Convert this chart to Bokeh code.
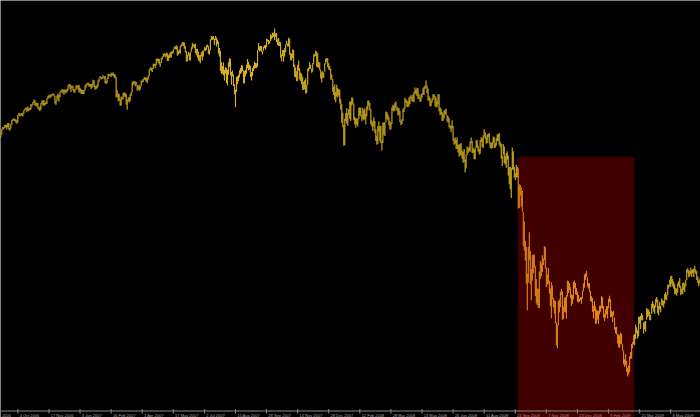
from bokeh.plotting import figure
from bokeh.models import Range1d, BoxAnnotation, ColumnDataSource, Span
from bokeh.embed import file_html
from bokeh.resources import INLINE
from bokeh.core.properties import value

# Daily index levels, one bar per trading day (Sep 2006 - Jun 2009)
high = [
    # 2006
    1302,1314,1319,1318,1324,1325,1324,1329,1329,1316,1327,1337,1340,1341,1340,
    1338,1336,1350,1356,1353,1354,1355,1356,1363,1366,1370,1369,1372,1367,1369,1378,1378,1384,1390,1389,1381,1382,
    1381,1369,1372,1381,1388,1388,1389,1381,1385,1394,1400,1403,1401,1404,1404,1407,1405,1400,1387,1401,1406,
    1402,1411,1415,1416,1418,1414,1417,1415,1418,1427,1431,1431,1426,1428,1425,1418,1417,1427,1428,1427,
    # 2007
    1429,1421,1418,1415,1415,1416,1427,1431,1433,1435,1432,1431,1431,1431,1442,1441,1427,1426,1429,1441,
    1446,1452,1449,1450,1454,1451,1452,1439,1446,1458,1457,1456,1460,1460,1461,1457,1456,1450,1415,
    1407,1404,1391,1398,1396,1408,1409,1408,1405,1390,1395,1397,1404,1411,1437,1437,1439,1437,1437,1429,1426,1429,
    1425,1440,1440,1444,1449,1448,1448,1448,1453,1469,1474,1474,1472,1484,1484,1484,1496,1498,1497,1496,
    1487,1499,1503,1510,1511,1509,1513,1512,1506,1510,1514,1515,1517,1522,1529,1529,1532,1529,1517,1521,1531,1535,
    1540,1540,1539,1530,1517,1507,1515,1511,1515,1527,1538,1535,1535,1537,1523,1523,1515,1506,1507,1514,1517,
    1519,1527,1526,1532,1534,1531,1521,1548,1556,1555,1556,1549,1556,1553,1547,1541,1525,1518,1488,1478,1488,
    1468,1475,1473,1468,1488,1498,1497,1462,1466,1456,1430,1416,1450,1451,1455,1467,1473,1480,1479,1466,1465,1468,1481,
    1496,1489,1481,1478,1462,1473,1479,1489,1486,1485,1519,1538,1529,1530,1530,1518,1529,1532,1533,
    1549,1548,1546,1544,1561,1558,1565,1565,1576,1563,1564,1548,1551,1541,1540,1508,1520,1520,1524,1535,1544,1537,1552,
    1549,1512,1510,1521,1520,1482,1474,1464,1481,1492,1472,1461,1458,1450,1436,1441,1446,1429,1471,1474,1488,
    1481,1471,1486,1508,1510,1518,1516,1511,1489,1487,1468,1461,1464,1461,1485,1497,1499,1498,1485,1478,
    # 2008
    1471,1456,1444,1424,1430,1410,1429,1420,1418,1416,1391,1378,1356,1323,1340,1355,1368,1354,1365,1385,1386,
    1396,1395,1380,1345,1341,1341,1341,1368,1370,1369,1350,1368,1363,1367,1354,1372,1387,1388,1381,1365,
    1336,1331,1344,1334,1313,1296,1321,1333,1321,1321,1283,1330,1331,1331,1359,1358,1352,1345,1334,1329,
    1370,1377,1375,1381,1386,1372,1369,1368,1361,1335,1339,1366,1369,1395,1391,1388,1385,1396,1398,1402,1397,1404,
    1410,1422,1415,1421,1420,1404,1395,1404,1407,1420,1424,1427,1440,1427,1419,1399,1395,1387,1393,1405,1404,
    1400,1396,1386,1405,1404,1370,1366,1358,1353,1361,1364,1366,1350,1347,1342,1323,1322,1336,1321,1289,1291,
    1285,1292,1272,1273,1275,1277,1257,1254,1261,1234,1246,1268,1263,1267,1280,1291,1283,1263,1260,1265,1284,1284,
    1270,1262,1285,1292,1290,1297,1313,1305,1294,1300,1301,1303,1279,1277,1280,1294,1292,1276,1289,1300,1300,
    1303,1280,1275,1244,1274,1268,1243,1250,1255,1244,1214,1214,1211,1265,1255,1214,1198,1220,1215,1210,1169,
    1167,1161,1153,1097,1072,1021,1006,936,1006,1044,995,948,984,986,985,955,922,897,896,941,969,963,984,
    975,1007,1005,952,933,951,917,897,913,905,873,866,864,808,802,865,868,888,896,
    889,850,873,875,879,918,916,911,900,882,880,914,918,911,898,889,880,870,874,874,891,910,
    # 2009
    934,936,943,927,911,911,890,877,872,852,864,850,841,839,839,852,852,877,874,851,
    830,842,851,851,870,878,869,839,836,839,822,796,797,778,777,775,781,779,751,
    735,712,725,708,690,696,720,731,752,758,775,778,803,796,788,823,823,826,833,828,809,810,
    812,846,843,842,836,828,857,864,857,853,870,875,868,851,862,851,871,867,864,883,888,
    881,907,907,920,929,930,922,915,908,898,896,910,916,924,903,896,911,913,909,920,
    947,950,945,942,951,946,947,949,956,946,942,928,918,923,927,922,
]
low = [
    # 2006
    1290,1299,1312,1313,1316,1318,1312,1318,1312,1309,1314,1325,1334,1336,1334,
    1330,1327,1331,1349,1346,1348,1349,1346,1353,1361,1365,1357,1361,1360,1363,1364,1372,1376,1382,1375,1374,1372,
    1366,1364,1360,1364,1379,1375,1374,1375,1378,1379,1392,1396,1394,1397,1399,1402,1399,1380,1377,1386,1393,
    1385,1397,1408,1411,1406,1403,1409,1406,1410,1414,1425,1418,1410,1421,1414,1408,1409,1416,1422,1416,
    # 2007
    1408,1411,1405,1405,1405,1404,1414,1422,1428,1428,1424,1424,1418,1421,1428,1423,1416,1417,1420,1424,
    1437,1446,1443,1444,1448,1444,1433,1431,1433,1444,1452,1451,1449,1454,1452,1448,1445,1396,1397,
    1386,1388,1374,1375,1390,1392,1398,1397,1377,1364,1385,1383,1386,1400,1409,1429,1432,1425,1428,1413,1417,1413,
    1416,1425,1435,1436,1442,1441,1436,1433,1443,1452,1467,1465,1462,1470,1478,1473,1480,1491,1486,1482,
    1476,1486,1495,1501,1505,1500,1503,1491,1491,1498,1500,1500,1510,1512,1522,1522,1521,1505,1507,1512,1510,1529,
    1531,1530,1523,1513,1490,1490,1505,1492,1492,1515,1523,1529,1525,1512,1506,1500,1492,1490,1485,1503,1492,
    1503,1518,1517,1520,1527,1510,1507,1519,1545,1546,1547,1533,1546,1529,1535,1510,1503,1465,1458,1458,1454,
    1440,1458,1433,1427,1455,1476,1453,1429,1451,1426,1404,1370,1411,1430,1439,1448,1457,1460,1465,1432,1433,1451,1458,
    1472,1466,1469,1449,1440,1452,1465,1471,1473,1473,1476,1519,1516,1518,1515,1508,1518,1525,1521,
    1527,1542,1535,1537,1543,1548,1552,1555,1546,1554,1540,1533,1530,1530,1500,1490,1504,1489,1503,1514,1534,1529,1529,
    1507,1493,1492,1499,1475,1450,1448,1438,1439,1466,1443,1439,1430,1416,1415,1417,1406,1407,1429,1464,1470,
    1470,1460,1463,1484,1502,1504,1476,1475,1473,1467,1445,1435,1446,1447,1463,1484,1489,1475,1469,1467,
    # 2008
    1442,1443,1411,1402,1390,1383,1398,1396,1401,1380,1364,1330,1318,1270,1271,1334,1327,1322,1350,1340,1335,
    1375,1379,1336,1325,1317,1325,1320,1339,1349,1347,1334,1339,1336,1339,1326,1347,1363,1374,1362,1325,
    1320,1308,1320,1303,1282,1272,1275,1306,1282,1277,1257,1277,1298,1295,1331,1341,1336,1323,1312,1312,
    1326,1361,1359,1362,1369,1361,1349,1350,1331,1324,1326,1334,1358,1367,1382,1371,1370,1373,1379,1394,1386,1384,
    1383,1406,1404,1399,1392,1392,1384,1386,1396,1403,1402,1418,1421,1407,1388,1387,1373,1373,1382,1389,1395,
    1373,1370,1370,1378,1360,1350,1351,1334,1335,1341,1352,1350,1333,1330,1318,1314,1305,1315,1283,1272,1275,
    1262,1261,1252,1241,1245,1244,1236,1225,1228,1200,1211,1245,1251,1255,1254,1276,1251,1251,1234,1235,1265,1264,
    1254,1247,1249,1280,1266,1264,1294,1288,1275,1277,1292,1276,1264,1262,1264,1278,1264,1265,1270,1282,1282,
    1272,1266,1236,1217,1247,1224,1221,1212,1233,1192,1169,1156,1133,1207,1207,1187,1180,1187,1187,1106,1107,
    1140,1111,1098,1008,996,970,909,840,912,972,908,866,918,937,952,877,858,853,846,846,922,928,940,
    958,971,949,900,907,910,884,852,819,869,848,831,806,748,741,801,834,848,880,
    815,817,836,834,818,876,885,892,872,851,857,868,897,882,880,862,860,862,866,857,870,889,
    # 2009
    899,919,927,902,897,888,864,862,836,818,838,804,806,816,804,829,836,845,844,821,
    812,821,829,819,845,861,822,823,809,826,789,780,777,754,743,742,751,751,734,
    699,692,697,679,667,672,679,713,714,741,751,749,765,780,766,772,805,791,814,814,779,790,
    784,815,822,826,814,814,830,845,836,831,848,860,832,827,842,835,853,852,847,858,869,
    866,879,897,903,901,909,902,896,882,882,878,886,903,899,879,883,882,893,888,903,
    919,938,926,929,934,927,937,927,939,935,919,911,903,910,914,891,
]

tick_labels = [
    "21 Aug 2006", "4 Oct 2006", "17 Nov 2006", "3 Jan 2007", "16 Feb 2007",
    "3 Apr 2007", "17 May 2007", "2 Jul 2007", "15 Aug 2007", "28 Sep 2007",
    "13 Nov 2007", "28 Dec 2007", "12 Feb 2008", "28 Mar 2008", "13 May 2008",
    "26 Jun 2008", "11 Aug 2008", "24 Sep 2008", "7 Nov 2008", "23 Dec 2008",
    "9 Feb 2009", "25 Mar 2009", "8 May 2009",
]
first_tick_bar = -14
tick_every = 31

# highlighted crash period (bar indices) and its upper level
box_first_bar = 516
box_last_bar = 631
box_top_level = 1240

n = min(len(high), len(low))
bars = ColumnDataSource(dict(x=list(range(n)), hi=high[:n], lo=low[:n]))

p = figure(width=700, height=417, output_backend="svg", toolbar_location=None,
           x_range=Range1d(-0.3, 697.7), y_range=Range1d(560, 1649),
           x_axis_location=None, y_axis_location=None, min_border=0,
           background_fill_color="black", border_fill_color="black",
           outline_line_color=None)
p.grid.visible = False

p.segment(x0="x", y0="lo", x1="x", y1="hi", source=bars,
          line_color="#d6b21e", line_width=1.1)

box = BoxAnnotation(left=box_first_bar - 0.5, right=box_last_bar + 0.5,
                    top=box_top_level, fill_color="#ff0000", fill_alpha=0.25,
                    line_color=None)
p.add_layout(box)

# date axis drawn in pixel space at the bottom of the frame
p.extra_y_ranges = {"px": Range1d(start=417, end=0)}
tick_x = [first_tick_bar + tick_every * k for k in range(len(tick_labels))]
p.add_layout(Span(location=410.5, dimension="width", y_range_name="px",
                  line_color="#8a8a8a", line_width=1))
p.segment(x0=tick_x, y0=[408.5] * len(tick_x), x1=tick_x, y1=[413] * len(tick_x),
          y_range_name="px", line_color="#8a8a8a", line_width=1)
p.text(x=[t + 1.8 for t in tick_x], y=[414.5] * len(tick_x), text=tick_labels,
       y_range_name="px", text_font=value("Liberation Sans"), text_font_size="4px",
       text_color="#a0a0a0", text_align="left", text_baseline="middle")

html = file_html(p, INLINE)
html = html.replace("<body>", '<body style="margin:0;background:#000;">', 1)
open("out.html", "w").write(html)
